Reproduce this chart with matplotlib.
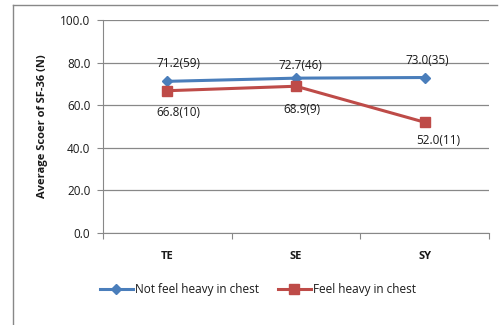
import matplotlib
matplotlib.use("Agg")
import matplotlib.pyplot as plt
from matplotlib.lines import Line2D

categories = ["TE", "SE", "SY"]
not_heavy = [71.2, 72.7, 73.0]
not_heavy_n = [59, 46, 35]
heavy = [66.8, 68.9, 52.0]
heavy_n = [10, 9, 11]
yticks = [0, 20, 40, 60, 80, 100]

plt.rcParams['font.family'] = ['Open Sans', 'DejaVu Sans']

fig = plt.figure(figsize=(5.01, 3.25), dpi=100)
ax = fig.add_axes([103/501, 1-233/325, (489-103)/501, (233-20)/325])

blue = "#4A7EBB"
red = "#BE4B48"
txt = "#1a1a1a"
fs = 8.5
x = list(range(len(categories)))
ax.plot(x, not_heavy, color=blue, lw=2.2, marker="D", ms=5, label="Not feel heavy in chest", zorder=3)
ax.plot(x, heavy, color=red, lw=2.2, marker="s", ms=7, label="Feel heavy in chest", zorder=3)

off_blue = [(8, 13), (3, 9), (2, 12)]
off_red = [(8, -16), (4, -17), (10, -13)]
for i in x:
    ax.annotate(f"{not_heavy[i]:.1f}({not_heavy_n[i]})", (i, not_heavy[i]), xytext=off_blue[i],
                textcoords="offset points", ha="center", va="center", fontsize=fs, color=txt)
    ax.annotate(f"{heavy[i]:.1f}({heavy_n[i]})", (i, heavy[i]), xytext=off_red[i],
                textcoords="offset points", ha="center", va="center", fontsize=fs, color=txt)

ax.set_xlim(-0.5, 2.5)
ax.set_ylim(0, 100)
ax.set_yticks(yticks)
ax.set_yticklabels([f"{v:.1f}" for v in yticks], fontsize=fs, color=txt)
ax.set_xticks([-0.5, 0.5, 1.5, 2.5])
ax.set_xticklabels([])
ax.set_xticks(x, minor=True)
ax.set_xticklabels(categories, minor=True, fontsize=8, fontweight="bold", color=txt)
ax.tick_params(axis="x", which="minor", length=0, pad=13)
ax.tick_params(axis="x", which="major", length=4, color="#888888", direction="out")
ax.tick_params(axis="y", length=4, color="#888888", pad=5)
ax.grid(axis="y", color="#888888", lw=0.9)
ax.set_axisbelow(True)
for s in ["top", "right"]:
    ax.spines[s].set_visible(False)
for s in ["left", "bottom"]:
    ax.spines[s].set_color("#888888")
ax.set_ylabel("Average Scoer of SF-36 (N)", fontsize=8, fontweight="bold", labelpad=9, color=txt)

handles = [Line2D([], [], color=blue, lw=2.2, marker="D", ms=5),
           Line2D([], [], color=red, lw=2.2, marker="s", ms=7)]
fig.legend(handles, ["Not feel heavy in chest", "Feel heavy in chest"], loc="center",
           bbox_to_anchor=(258/501, 1-290/325), ncol=2, frameon=False, fontsize=fs,
           handlelength=2.8, handletextpad=0.2, columnspacing=1.6, labelcolor=txt)

fig.add_artist(Line2D([13/501, 13/501], [0, 1-5/325], color="#888888", lw=1))
fig.add_artist(Line2D([13/501, 497/501], [1-5/325, 1-5/325], color="#888888", lw=1))

fig.savefig("out.png", dpi=100)
